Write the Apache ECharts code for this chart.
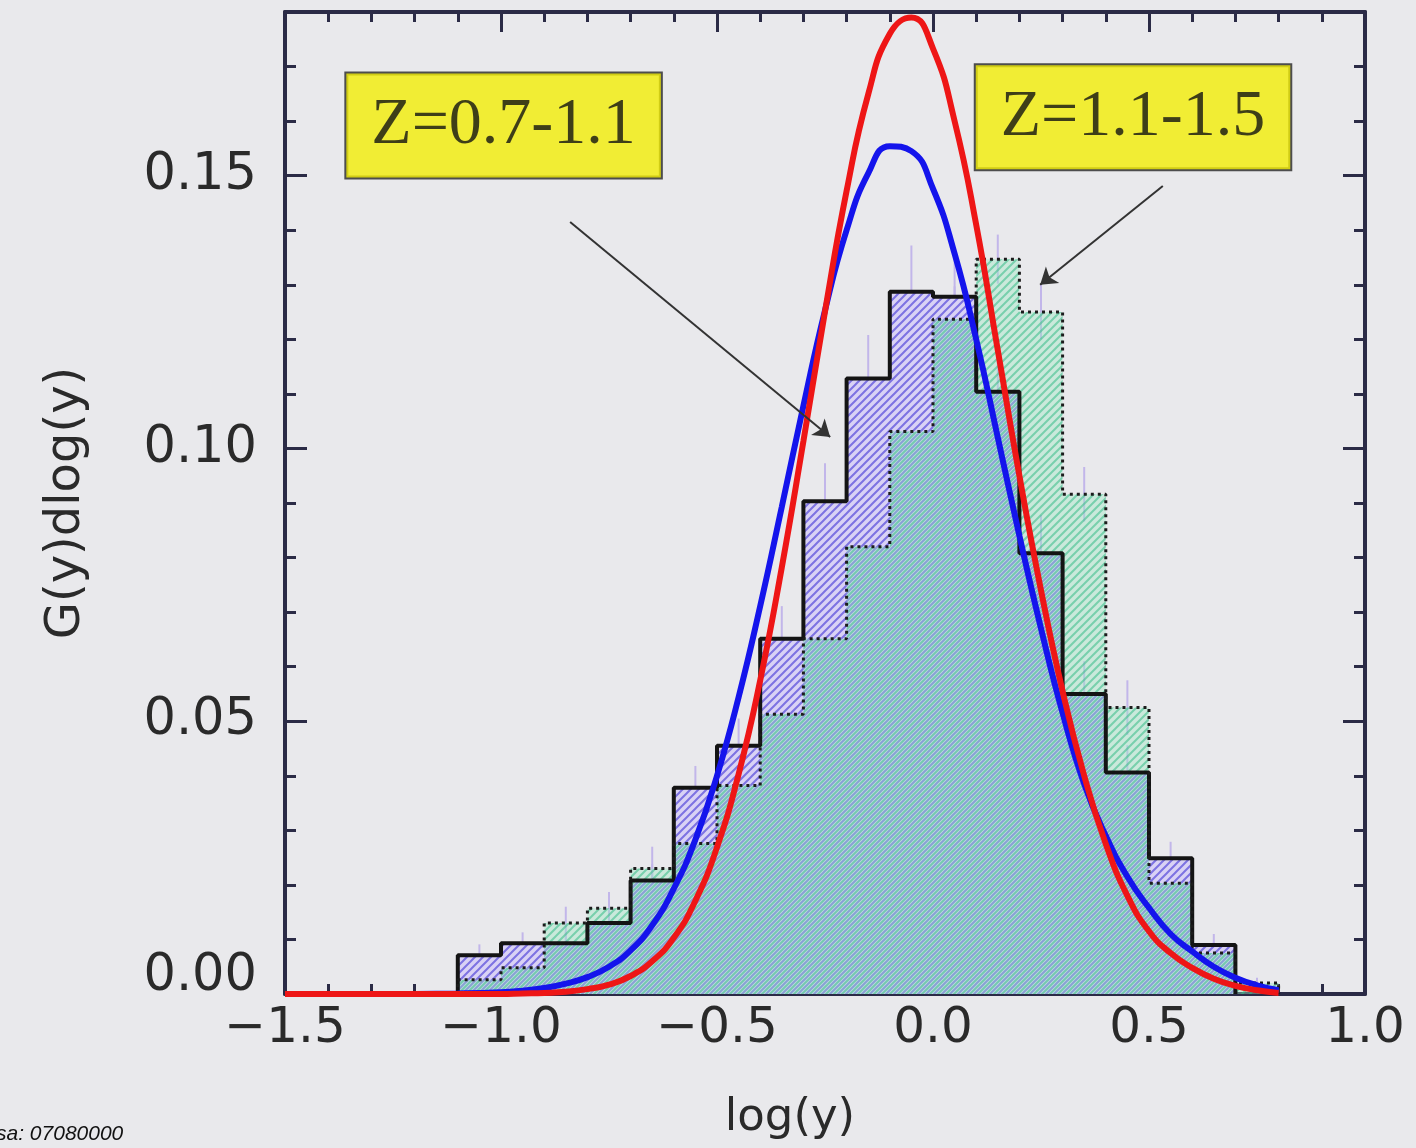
<!DOCTYPE html>
<html>
<head>
<meta charset="utf-8">
<title>G(y)dlog(y) vs log(y)</title>
<script src="https://cdn.jsdelivr.net/npm/echarts@6/dist/echarts.min.js"></script>
<style>
    html, body { margin: 0; padding: 0; background: #e9e9ec; }
    #chart { width: 1416px; height: 1148px; }
</style>
</head>
<body>
<div id="chart"></div>
<script>
    // histogram bin edges in log(y), bins are 0.1 wide
    var binEdges = [-1.1, -1.0, -0.9, -0.8, -0.7, -0.6, -0.5, -0.4, -0.3, -0.2,
                    -0.1, 0.0, 0.1, 0.2, 0.3, 0.4, 0.5, 0.6, 0.7, 0.8];

    // Z=0.7-1.1 : solid outline, purple hatch (one value per bin from -1.1)
    var histLow = [0.0071, 0.0093, 0.0093, 0.0130, 0.0208, 0.0378, 0.0455, 0.0651, 0.0903, 0.1128,
                   0.1287, 0.1278, 0.1104, 0.0808, 0.0550, 0.0406, 0.0249, 0.0090];
    var histLowErr = [0.002, 0.002, 0.002, 0.003, 0.003, 0.004, 0.005, 0.006, 0.007, 0.008,
                      0.0085, 0.008, 0.008, 0.007, 0.006, 0.005, 0.003, 0.002];

    // Z=1.1-1.5 : dotted outline, green hatch
    var histHigh = [0.0026, 0.0048, 0.0130, 0.0157, 0.0230, 0.0276, 0.0382, 0.0513, 0.0651, 0.0820,
                    0.1031, 0.1237, 0.1347, 0.1250, 0.0916, 0.0525, 0.0203, 0.0075, 0.0020];
    var histHighErr = [0.0015, 0.002, 0.003, 0.003, 0.004, 0.004, 0.005, 0.005, 0.006, 0.006,
                       0.007, 0.006, 0.0045, 0.005, 0.005, 0.005, 0.004, 0.002, 0.001];

    var curveX = [-1.5, -1.3, -1.1, -1.0, -0.95, -0.9, -0.85, -0.8, -0.75, -0.7,
                  -0.65, -0.6, -0.55, -0.5, -0.45, -0.4, -0.35, -0.3, -0.25, -0.2,
                  -0.15, -0.1, -0.05, 0.0, 0.05, 0.1, 0.15, 0.2, 0.25, 0.3,
                  0.35, 0.4, 0.45, 0.5, 0.55, 0.6, 0.65, 0.7, 0.75, 0.8];
    var blueCurve = [0, 0, 0.0001, 0.0003, 0.0006, 0.0011, 0.0019, 0.0031, 0.0050, 0.0080,
                     0.0126, 0.0193, 0.0283, 0.0400, 0.0544, 0.0711, 0.0893, 0.1078, 0.1253, 0.1400,
                     0.1504, 0.1554, 0.1545, 0.1476, 0.1357, 0.1200, 0.1020, 0.0840, 0.0670, 0.0515,
                     0.0385, 0.0290, 0.0215, 0.0158, 0.0110, 0.0078, 0.0050, 0.0030, 0.0016, 0.0007];
    var redCurve = [0, 0, 0, 0, 0.0001, 0.0002, 0.0004, 0.0009, 0.0017, 0.0033,
                    0.0060, 0.0103, 0.0171, 0.0269, 0.0403, 0.0575, 0.0782, 0.1013, 0.1251, 0.1472,
                    0.1649, 0.1760, 0.1790, 0.1733, 0.1600, 0.1410, 0.1180, 0.0950, 0.0740, 0.0555,
                    0.0400, 0.0275, 0.0180, 0.0115, 0.0075, 0.0048, 0.0028, 0.0015, 0.0007, 0.0002];

    var xTickValues = [-1.5, -1.0, -0.5, 0.0, 0.5, 1.0];
    var xTickLabels = ['\u22121.5', '\u22121.0', '\u22120.5', '0.0', '0.5', '1.0'];
    var yTickValues = [0, 0.05, 0.10, 0.15];
    var yTickLabels = ['0.00', '0.05', '0.10', '0.15'];

    var noteLabels = ['Z=0.7-1.1', 'Z=1.1-1.5'];
    // annotation boxes and arrows, in data units
    var notePos = [[-0.994, 0.1592], [0.463, 0.1607]];
    var arrowLines = [[[-0.840, 0.1415], [-0.238, 0.1021]],
                      [[0.532, 0.1481], [0.248, 0.1300]]];

    var frameColor = '#2b2b46';

    // outline of a histogram as a closed step line
    function stepData(vals) {
        var n = vals.length;
        var pts = [[binEdges[0], 0]];
        for (var i = 0; i < n; i++) {
            pts.push([binEdges[i], vals[i]]);
        }
        pts.push([binEdges[n], vals[n - 1]]);
        pts.push([binEdges[n], 0]);
        return pts;
    }

    function errData(vals, errs) {
        return vals.map(function (v, i) {
            return [binEdges[i] + 0.05, v, errs[i]];
        });
    }

    function hatch(bg, stripe, offset) {
        var s = 8;
        var c = document.createElement('canvas');
        c.width = s;
        c.height = s;
        var g = c.getContext('2d');
        g.fillStyle = bg;
        g.fillRect(0, 0, s, s);
        g.strokeStyle = stripe;
        g.lineWidth = 2;
        g.beginPath();
        for (var k = -1; k <= 1; k++) {
            g.moveTo(k * s + offset - 1, s + 1);
            g.lineTo(k * s + offset + s + 1, -1);
        }
        g.stroke();
        return c;
    }

    function tickAxis(pos, interval, len, showLine) {
        return {
            type: 'value',
            position: pos,
            min: pos === 'left' || pos === 'right' ? 0 : -1.5,
            max: pos === 'left' || pos === 'right' ? 0.18 : 1.0,
            interval: interval,
            axisLine: { show: showLine, onZero: false, lineStyle: { color: frameColor, width: 4 } },
            axisTick: { show: true, inside: true, length: len, lineStyle: { color: frameColor, width: 3 } },
            axisLabel: { show: false },
            splitLine: { show: false }
        };
    }

    function errRender(color) {
        return function (params, api) {
            var x = api.value(0), top = api.value(1), err = api.value(2);
            var p1 = api.coord([x, top - err]);
            var p2 = api.coord([x, top + err]);
            return {
                type: 'line',
                shape: { x1: p1[0], y1: p1[1], x2: p2[0], y2: p2[1] },
                style: { stroke: color, lineWidth: 2 }
            };
        };
    }

    var labelFont = 'DejaVu Sans';

    var xMain = tickAxis('bottom', 0.5, 20, true);
    xMain.axisLabel = {
        show: true, margin: 10, fontFamily: labelFont, fontSize: 50, color: '#2a2a2a',
        formatter: function (v) {
            var i = xTickValues.findIndex(function (t) { return Math.abs(t - v) < 1e-6; });
            return i < 0 ? '' : xTickLabels[i];
        }
    };
    xMain.name = 'log(y)';
    xMain.nameLocation = 'middle';
    xMain.nameGap = 102;
    xMain.nameTextStyle = { fontFamily: labelFont, fontSize: 45, color: '#2a2a2a', padding: [0, 70, 0, 0] };

    var yMain = tickAxis('left', 0.05, 22, true);
    yMain.axisLabel = {
        show: true, margin: 28, fontFamily: labelFont, fontSize: 51, lineHeight: 34, color: '#2a2a2a',
        showMaxLabel: false, verticalAlignMinLabel: 'bottom',
        formatter: function (v) {
            var i = yTickValues.findIndex(function (t) { return Math.abs(t - v) < 1e-6; });
            return i < 0 ? '' : yTickLabels[i];
        }
    };
    yMain.name = 'G(y)dlog(y)';
    yMain.nameLocation = 'middle';
    yMain.nameGap = 194;
    yMain.nameMoveOverlap = false;
    yMain.nameTextStyle = { fontFamily: labelFont, fontSize: 48, color: '#2a2a2a' };

    var purpleFill = hatch('#d9d2f5', '#7d72e2', 0);
    var greenFill = hatch('rgba(155,232,195,0.40)', 'rgba(60,190,140,0.58)', 4);

    var myChart = echarts.init(document.getElementById('chart'));
    var option = {
        backgroundColor: '#e9e9ec',
        animation: false,
        grid: { left: 285, right: 51, top: 12, bottom: 154, outerBoundsMode: 'none', containLabel: false },
        xAxis: [
            xMain,
            tickAxis('bottom', 0.1, 10, false),
            tickAxis('top', 0.5, 20, true),
            tickAxis('top', 0.1, 10, false)
        ],
        yAxis: [
            yMain,
            tickAxis('left', 0.01, 11, false),
            tickAxis('right', 0.05, 22, true),
            tickAxis('right', 0.01, 11, false)
        ],
        series: [
            {
                type: 'custom',
                renderItem: errRender('#c2b6ea'),
                data: errData(histLow, histLowErr),
                silent: true
            },
            {
                type: 'custom',
                renderItem: errRender('#c2b6ea'),
                data: errData(histHigh, histHighErr),
                silent: true
            },
            {
                name: 'Z=0.7-1.1 fill',
                type: 'line',
                step: 'end',
                symbol: 'none',
                data: stepData(histLow),
                lineStyle: { width: 0 },
                areaStyle: { color: { image: purpleFill, repeat: 'repeat' }, opacity: 1 },
                silent: true
            },
            {
                name: 'Z=1.1-1.5 fill',
                type: 'line',
                step: 'end',
                symbol: 'none',
                data: stepData(histHigh),
                lineStyle: { width: 0 },
                areaStyle: { color: { image: greenFill, repeat: 'repeat' }, opacity: 1 },
                silent: true
            },
            {
                name: 'Z=0.7-1.1',
                type: 'line',
                step: 'end',
                symbol: 'none',
                data: stepData(histLow),
                lineStyle: { color: '#141414', width: 4 },
                silent: true
            },
            {
                name: 'Z=1.1-1.5',
                type: 'line',
                step: 'end',
                symbol: 'none',
                data: stepData(histHigh),
                lineStyle: { color: '#1c1c1c', width: 3, type: [3, 4] },
                silent: true
            },
            {
                name: 'fit blue',
                type: 'line',
                smooth: 0.5,
                symbol: 'none',
                clip: false,
                data: curveX.map(function (x, i) { return [x, blueCurve[i]]; }),
                lineStyle: { color: '#1414ec', width: 6 },
                silent: true
            },
            {
                name: 'fit red',
                type: 'line',
                smooth: 0.5,
                symbol: 'none',
                clip: false,
                data: curveX.map(function (x, i) { return [x, redCurve[i]]; }),
                lineStyle: { color: '#ee1616', width: 6 },
                silent: true
            },
            {
                name: 'notes',
                type: 'scatter',
                symbolSize: 1,
                itemStyle: { color: 'rgba(0,0,0,0)' },
                z: 10,
                data: notePos.map(function (p, i) { return { name: noteLabels[i], value: p }; }),
                label: {
                    show: true,
                    position: 'inside',
                    formatter: '{b}',
                    fontFamily: 'Liberation Serif',
                    fontSize: 66,
                    lineHeight: 68,
                    color: '#111111',
                    backgroundColor: '#f2ee06',
                    borderColor: '#262626',
                    borderWidth: 2,
                    padding: [18, 25, 18, 25]
                },
                markLine: {
                    silent: true,
                    symbol: ['none', 'arrow'],
                    symbolSize: 16,
                    label: { show: false },
                    lineStyle: { color: '#333333', width: 2, type: 'solid' },
                    data: arrowLines.map(function (a) {
                        return [{ coord: a[0] }, { coord: a[1] }];
                    })
                },
                silent: true
            }
        ],
        graphic: [
            {
                type: 'text',
                left: -4,
                top: 1124,
                style: { text: 'sa: 07080000', font: 'italic 21px "Liberation Sans"', fill: '#111' }
            }
        ]
    };

    myChart.setOption(option);
    window.onresize = myChart.resize;
</script>
</body>
</html>
